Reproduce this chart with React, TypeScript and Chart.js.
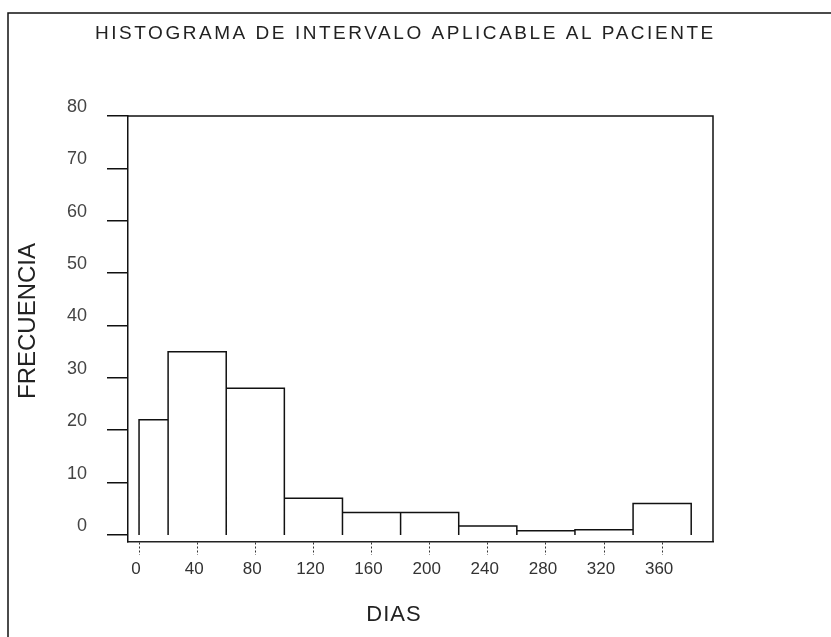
import { useEffect, useRef } from "react";
import { Chart, registerables } from "chart.js";

Chart.register(...registerables);

// ---- data ----
const binEdges = [0, 20, 60, 100, 140, 180, 220, 260, 300, 340, 380];
const frequencies = [22, 35, 28, 7, 4.3, 4.3, 1.7, 0.8, 1, 6];
const xTickValues = [0, 40, 80, 120, 160, 200, 240, 280, 320, 360];
const yTickValues = [0, 10, 20, 30, 40, 50, 60, 70, 80];
const titleText = "HISTOGRAMA DE INTERVALO APLICABLE AL PACIENTE";
const xAxisTitle = "DIAS";
const yAxisTitle = "FRECUENCIA";

function buildOutline() {
  const pts: { x: number; y: number }[] = [];
  for (let i = 0; i < frequencies.length; i++) {
    const x0 = binEdges[i];
    const x1 = binEdges[i + 1];
    const h = frequencies[i];
    pts.push({ x: x0, y: 0 }, { x: x0, y: h }, { x: x1, y: h }, { x: x1, y: 0 });
  }
  return pts;
}

const decorPlugin = {
  id: "decor",
  beforeDraw(chart: any) {
    const ctx = chart.ctx;
    const W = chart.width;
    const H = chart.height;
    ctx.save();
    ctx.fillStyle = "#ffffff";
    ctx.fillRect(0, 0, W, H);
    // outer scanned border
    ctx.strokeStyle = "#111";
    ctx.lineWidth = 1.5;
    ctx.beginPath();
    ctx.moveTo(8, H);
    ctx.lineTo(8, 13);
    ctx.lineTo(W, 13);
    ctx.stroke();
    ctx.restore();
  },
  afterDraw(chart: any) {
    const ctx = chart.ctx;
    const a = chart.chartArea;
    ctx.save();
    // top and right frame
    ctx.strokeStyle = "#111";
    ctx.lineWidth = 1.5;
    ctx.beginPath();
    ctx.moveTo(a.left, a.top);
    ctx.lineTo(a.right, a.top);
    ctx.lineTo(a.right, a.bottom);
    ctx.stroke();

    ctx.fillStyle = "#222";
    ctx.textBaseline = "middle";
    ctx.textAlign = "left";
    // title, spaced to span its width
    ctx.font = "19px 'Liberation Sans', Arial, sans-serif";
    const targetW = 618;
    const w0 = ctx.measureText(titleText).width;
    const sp = Math.max(0, (targetW - w0) / (titleText.length - 1));
    (ctx as any).letterSpacing = sp.toFixed(2) + "px";
    ctx.fillText(titleText, 95, 34);
    (ctx as any).letterSpacing = "0px";

    // x axis title
    ctx.font = "22px 'Liberation Sans', Arial, sans-serif";
    ctx.textAlign = "center";
    (ctx as any).letterSpacing = "1px";
    ctx.fillText(xAxisTitle, 394, 615);
    (ctx as any).letterSpacing = "0px";

    // y axis title
    ctx.translate(28, 321);
    ctx.rotate(-Math.PI / 2);
    ctx.font = "24px 'Liberation Sans', Arial, sans-serif";
    ctx.textAlign = "center";
    ctx.fillText(yAxisTitle, 0, 0);
    ctx.restore();
  },
};

export default function App() {
  const ref = useRef<HTMLCanvasElement | null>(null);
  useEffect(() => {
    document.body.style.margin = "0";
    const canvas = ref.current!;
    const chart = new Chart(canvas, {
      type: "scatter",
      data: {
        datasets: [
          {
            data: buildOutline(),
            showLine: true,
            borderColor: "#111",
            borderWidth: 1.5,
            pointRadius: 0,
            fill: false,
            tension: 0,
          },
        ],
      },
      options: {
        animation: false,
        responsive: false,
        maintainAspectRatio: false,
        layout: { padding: { left: 48, right: 118, top: 116, bottom: 50 } },
        plugins: {
          legend: { display: false },
          title: { display: false },
          tooltip: { enabled: false },
        },
        scales: {
          x: {
            type: "linear",
            min: -7.6,
            max: 395,
            afterBuildTicks: (s: any) => {
              s.ticks = xTickValues.map((v) => ({ value: v }));
            },
            afterFit: (s: any) => {
              s.height = 45;
            },
            grid: {
              drawOnChartArea: false,
              drawTicks: true,
              tickLength: 13,
              color: "#333",
              tickBorderDash: [2, 2],
              lineWidth: 1,
            },
            border: { display: true, color: "#222", width: 1.5, dash: [2, 3] },
            ticks: {
              padding: 4,
              labelOffset: -3,
              maxRotation: 0,
              autoSkip: false,
              color: "#333",
              font: { family: "'Liberation Sans', Arial, sans-serif", size: 17 },
            },
          },
          y: {
            type: "linear",
            min: -1.34,
            max: 80,
            afterBuildTicks: (s: any) => {
              s.ticks = yTickValues.map((v) => ({ value: v }));
            },
            afterFit: (s: any) => {
              s.width = 80;
            },
            grid: {
              drawOnChartArea: false,
              drawTicks: true,
              tickLength: 21,
              color: "#111",
              lineWidth: 1.5,
            },
            border: { display: true, color: "#111", width: 1.5 },
            ticks: {
              padding: 20,
              labelOffset: -9,
              autoSkip: false,
              color: "#444",
              font: { family: "'Liberation Sans Narrow', 'Liberation Sans', sans-serif", size: 18 },
            },
          },
        },
      },
      plugins: [decorPlugin],
    });
    return () => chart.destroy();
  }, []);
  return <canvas ref={ref} width={831} height={637} style={{ display: "block" }} />;
}
